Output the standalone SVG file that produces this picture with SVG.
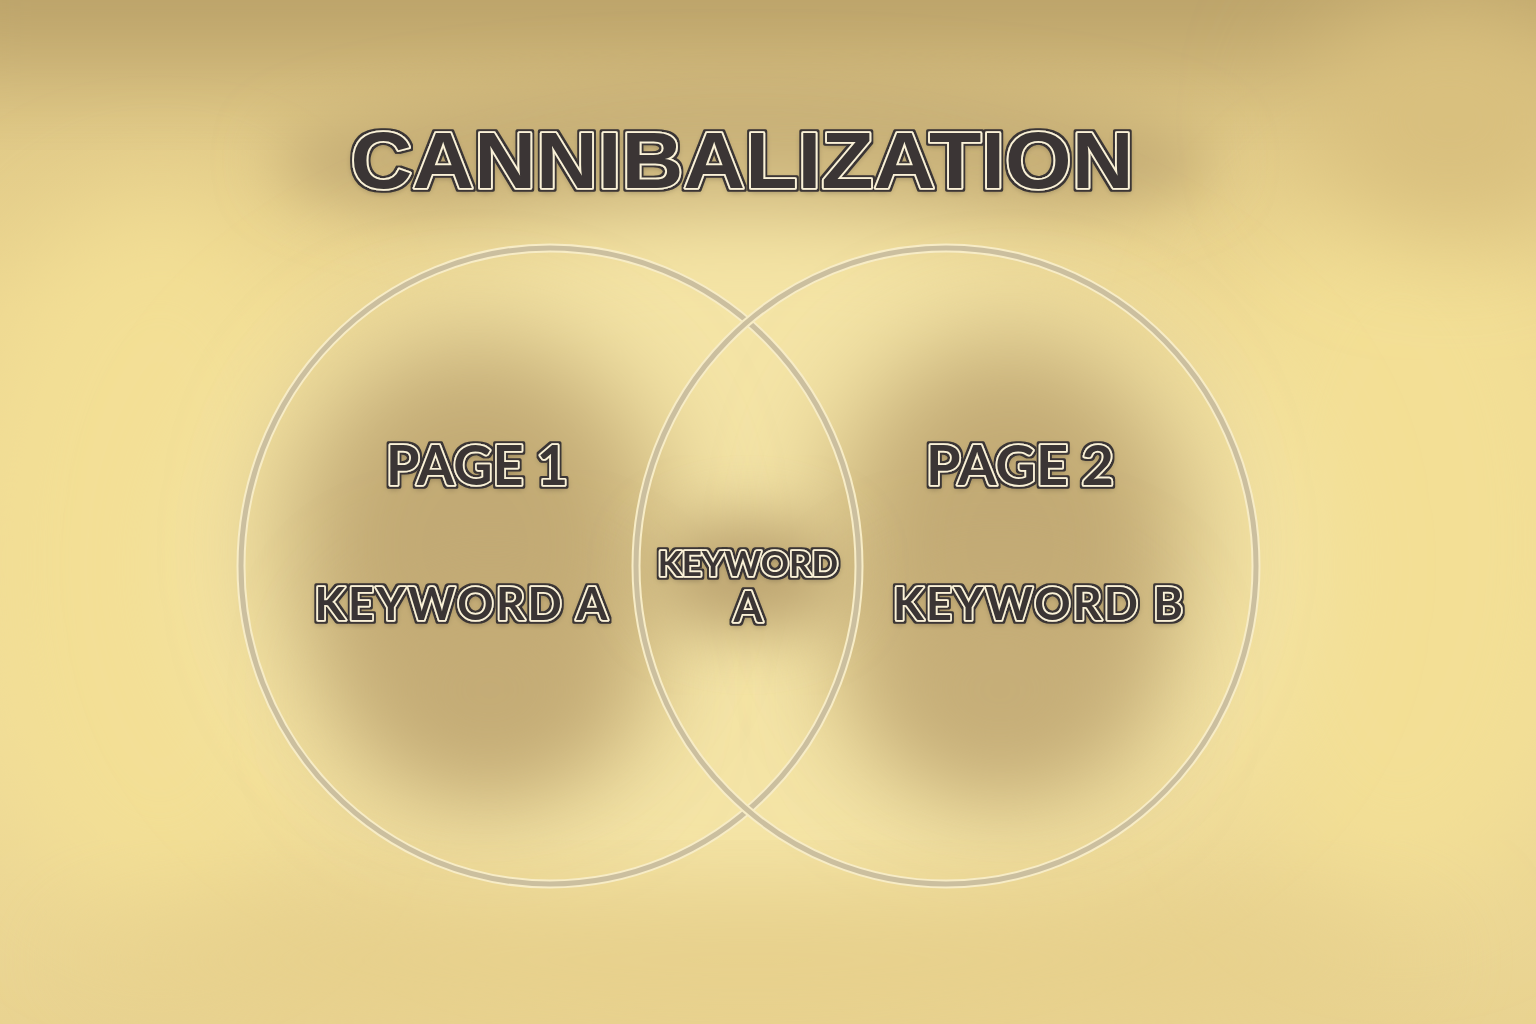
<svg xmlns="http://www.w3.org/2000/svg" width="1536" height="1024" viewBox="0 0 1536 1024">
  <defs>
    <linearGradient id="bg" x1="0" y1="0" x2="0" y2="1">
      <stop offset="0" stop-color="#d9c182"/>
      <stop offset="0.3" stop-color="#ecd690"/>
      <stop offset="0.7" stop-color="#efdb98"/>
      <stop offset="1" stop-color="#e9d391"/>
    </linearGradient>
    <filter id="blurL" x="-50%" y="-50%" width="200%" height="200%">
      <feGaussianBlur stdDeviation="55"/>
    </filter>
    <filter id="blurM" x="-50%" y="-50%" width="200%" height="200%">
      <feGaussianBlur stdDeviation="30"/>
    </filter>
    <filter id="outline" x="-20%" y="-50%" width="140%" height="200%">
      <feMorphology in="SourceAlpha" operator="dilate" radius="1.5" result="dil"/>
      <feFlood flood-color="#3a3634"/>
      <feComposite in2="dil" operator="in" result="edge"/>
      <feGaussianBlur in="SourceAlpha" stdDeviation="3" result="sb"/>
      <feOffset in="sb" dx="0" dy="2" result="so"/>
      <feComponentTransfer in="so" result="shadow"><feFuncA type="linear" slope="0.3"/></feComponentTransfer>
      <feMerge><feMergeNode in="shadow"/><feMergeNode in="edge"/><feMergeNode in="SourceGraphic"/></feMerge>
    </filter>
  </defs>
  <style>
    .ring-glow { fill: none; stroke: #f7ecc6; stroke-width: 9; }
    .ring { fill: none; stroke: #cbbf9f; stroke-width: 5; }
    .title { font-family: "Liberation Sans", Arial, sans-serif; font-weight: 700; font-size: 80px; }
    .lbl { font-family: Lato, "Open Sans", sans-serif; font-weight: 700; }
    .txt { fill: #3a3634; stroke: #fbf2d8; stroke-width: 3.5; stroke-linejoin: round; paint-order: stroke; filter: url(#outline); }
  </style>

  <!-- background -->
  <g id="background">
    <rect x="0" y="0" width="1536" height="1024" fill="url(#bg)"/>
    <rect x="-100" y="-120" width="1736" height="180" fill="#b9a068" filter="url(#blurL)"/>
    <ellipse cx="160" cy="560" rx="200" ry="360" fill="#f3df95" filter="url(#blurL)"/>
    <ellipse cx="1400" cy="540" rx="200" ry="360" fill="#f3df95" filter="url(#blurL)"/>
    <ellipse cx="745" cy="160" rx="470" ry="80" fill="#c6ae76" filter="url(#blurM)"/>
    <ellipse cx="1450" cy="120" rx="150" ry="120" fill="#d9c07e" filter="url(#blurL)"/>
    <ellipse cx="748" cy="566" rx="560" ry="360" fill="#f4e4a6" filter="url(#blurL)"/>
    <ellipse cx="475" cy="545" rx="190" ry="210" fill="#c2aa74" filter="url(#blurL)"/>
    <ellipse cx="490" cy="690" rx="140" ry="110" fill="#c4ac76" filter="url(#blurL)"/>
    <ellipse cx="1010" cy="545" rx="180" ry="210" fill="#c2aa74" filter="url(#blurL)"/>
    <ellipse cx="1000" cy="690" rx="140" ry="110" fill="#c6ae78" filter="url(#blurL)"/>
    <ellipse cx="748" cy="575" rx="95" ry="60" fill="#bfa773" filter="url(#blurM)"/>
    <ellipse cx="748" cy="960" rx="700" ry="60" fill="#e6cf8a" filter="url(#blurL)"/>
  </g>

  <!-- circles (nodes) -->
  <g id="circle-page1">
    <ellipse class="ring-glow" cx="550" cy="566" rx="309" ry="318"/>
    <ellipse class="ring" cx="550" cy="566" rx="309" ry="318"/>
  </g>
  <g id="circle-page2">
    <ellipse class="ring-glow" cx="946" cy="566" rx="310" ry="318"/>
    <ellipse class="ring" cx="946" cy="566" rx="310" ry="318"/>
  </g>
  <g id="connectors"></g>

  <!-- title -->
  <g id="title">
    <text class="title txt" x="742" y="188" text-anchor="middle" textLength="783" lengthAdjust="spacingAndGlyphs">CANNIBALIZATION</text>
  </g>

  <!-- labels -->
  <g id="page1-labels">
    <text class="lbl txt" x="477" y="485" font-size="55" text-anchor="middle" textLength="182" lengthAdjust="spacingAndGlyphs">PAGE 1</text>
    <text class="lbl txt" x="461" y="620" font-size="45" text-anchor="middle" textLength="293" lengthAdjust="spacing">KEYWORD A</text>
  </g>
  <g id="overlap-labels">
    <text class="lbl txt" text-anchor="middle"><tspan x="748" y="576" font-size="35">KEYWORD</tspan><tspan x="748" y="622" font-size="42">A</tspan></text>
  </g>
  <g id="page2-labels">
    <text class="lbl txt" x="1020" y="485" font-size="55" text-anchor="middle" textLength="188" lengthAdjust="spacingAndGlyphs">PAGE 2</text>
    <text class="lbl txt" x="1038" y="620" font-size="45" text-anchor="middle" textLength="290" lengthAdjust="spacing">KEYWORD B</text>
  </g>
</svg>
